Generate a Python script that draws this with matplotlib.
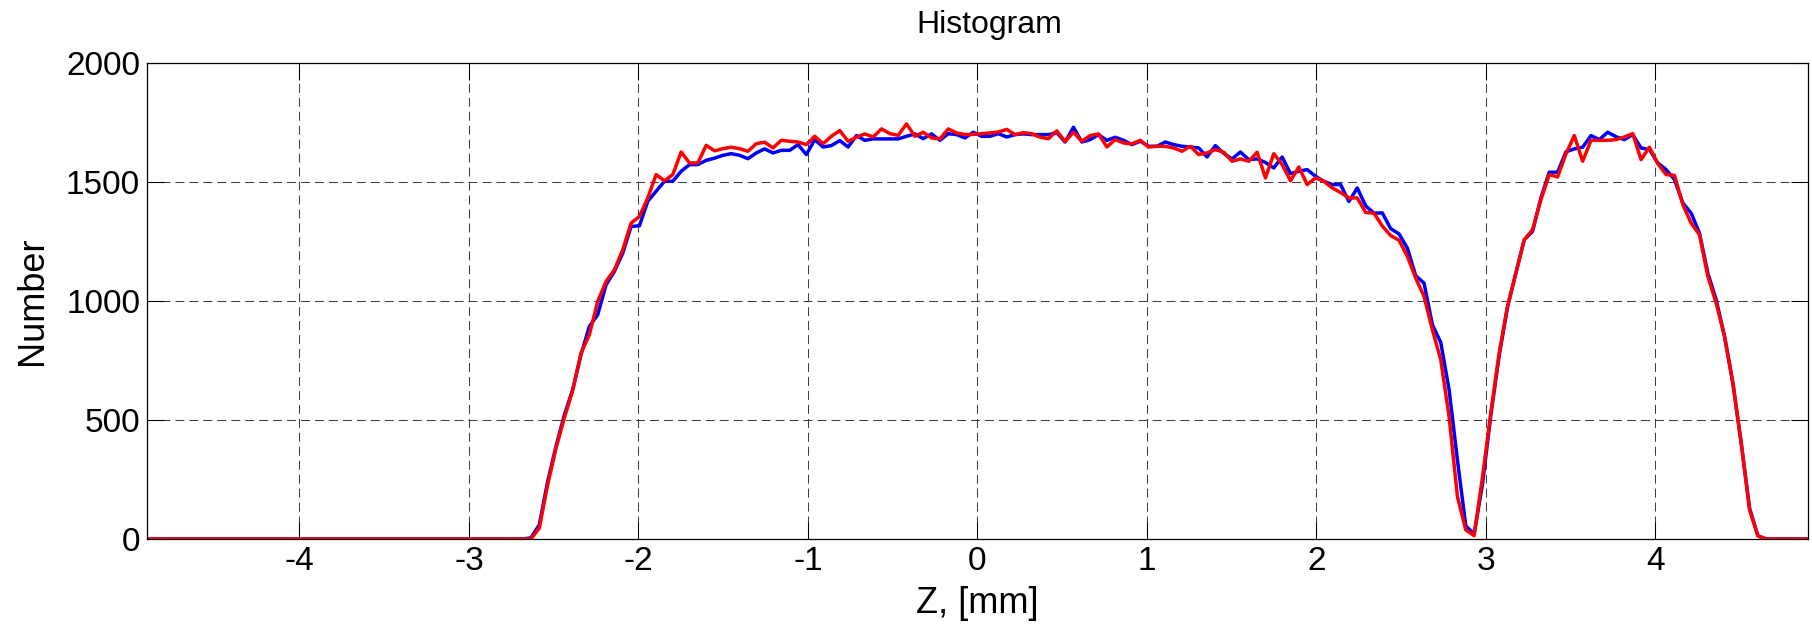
import numpy as np
import matplotlib
matplotlib.use('Agg')
import matplotlib.pyplot as plt

plt.rcParams['font.family'] = ['Liberation Sans', 'DejaVu Sans']
plt.rcParams['font.size'] = 24
plt.rcParams['axes.unicode_minus'] = False

# bin centres, mm
z = np.linspace(-4.9, 4.9, 200)

# counts per bin (bins 46..193 carry signal, the rest are empty)
counts_blue = [0] * 46 + [
    5, 59, 241, 388, 521, 627, 774, 893, 942, 1068,
    1124, 1201, 1313, 1316, 1419, 1461, 1503, 1503, 1545, 1573,
    1573, 1591, 1600, 1612, 1619, 1612, 1598, 1622, 1639, 1622,
    1633, 1633, 1657, 1615, 1678, 1647, 1653, 1674, 1647, 1695,
    1675, 1681, 1681, 1681, 1681, 1692, 1702, 1682, 1702, 1675,
    1703, 1699, 1685, 1709, 1692, 1692, 1703, 1689, 1699, 1702,
    1699, 1699, 1699, 1707, 1668, 1730, 1668, 1678, 1699, 1675,
    1688, 1675, 1657, 1671, 1650, 1650, 1668, 1657, 1650, 1647,
    1643, 1605, 1653, 1620, 1597, 1626, 1594, 1597, 1582, 1559,
    1605, 1535, 1545, 1552, 1524, 1503, 1489, 1489, 1418, 1475,
    1400, 1369, 1370, 1304, 1282, 1222, 1106, 1075, 900, 826,
    627, 332, 55, 21, 230, 520, 770, 975, 1117, 1257,
    1292, 1433, 1541, 1541, 1627, 1639, 1646, 1695, 1678, 1709,
    1690, 1678, 1699, 1643, 1636, 1580, 1552, 1510, 1412, 1369,
    1285, 1117, 1005, 851, 655, 402, 129, 13,
] + [0] * 6

counts_red = [0] * 46 + [
    0, 45, 227, 381, 508, 624, 781, 858, 998, 1082,
    1131, 1215, 1327, 1355, 1433, 1531, 1505, 1531, 1626, 1580,
    1580, 1654, 1631, 1640, 1646, 1640, 1629, 1661, 1667, 1643,
    1675, 1671, 1668, 1657, 1692, 1661, 1692, 1716, 1671, 1688,
    1702, 1689, 1723, 1703, 1696, 1744, 1692, 1709, 1685, 1681,
    1723, 1706, 1699, 1700, 1703, 1706, 1710, 1721, 1699, 1707,
    1703, 1688, 1682, 1715, 1670, 1709, 1671, 1695, 1702, 1647,
    1678, 1664, 1660, 1675, 1647, 1650, 1650, 1643, 1629, 1650,
    1615, 1622, 1636, 1625, 1587, 1597, 1587, 1625, 1517, 1619,
    1573, 1505, 1563, 1489, 1517, 1503, 1475, 1456, 1433, 1433,
    1372, 1369, 1315, 1275, 1255, 1188, 1096, 1019, 879, 753,
    514, 178, 38, 14, 260, 530, 781, 977, 1117, 1257,
    1300, 1426, 1531, 1521, 1618, 1695, 1587, 1675, 1675, 1675,
    1678, 1689, 1703, 1594, 1646, 1577, 1531, 1528, 1405, 1327,
    1278, 1103, 991, 851, 655, 402, 122, 13,
] + [0] * 6

fig = plt.figure(figsize=(18.12, 6.26), dpi=100)
ax = fig.add_axes([0.0811, 0.139, 0.9167, 0.7604])

ax.plot(z, counts_blue, color='#0000ff', lw=2.5)
ax.plot(z, counts_red, color='#ff0000', lw=2.5)

ax.set_xlim(-4.9, 4.9)
ax.set_ylim(0, 2000)
ax.set_xticks(np.arange(-4, 5, 1))
ax.set_yticks(np.arange(0, 2001, 500))

ax.grid(True, color='#404040', lw=0.75, linestyle=(0, (8.6, 4.8)))
ax.set_axisbelow(True)
ax.tick_params(direction='in', length=12, width=0.75, top=True, right=True, pad=5)
for s in ax.spines.values():
    s.set_linewidth(0.9)

ax.set_title('Histogram', fontsize=23, pad=0, x=0.507, y=1.0798, va='center')
ax.set_xlabel('Z, [mm]', fontsize=26, va='center')
ax.set_ylabel('Number', fontsize=26, va='center')
ax.xaxis.set_label_coords(0.5, -0.1345)
ax.yaxis.set_label_coords(-0.0692, 0.5)

fig.savefig('out.png', dpi=100)
